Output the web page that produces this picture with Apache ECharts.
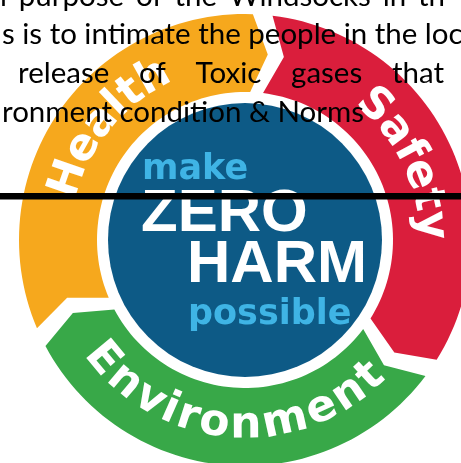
<!DOCTYPE html>
<html>
<head>
<meta charset="utf-8">
<script src="https://cdn.jsdelivr.net/npm/echarts@6/dist/echarts.min.js"></script>
<style>
html,body{margin:0;padding:0;background:#ffffff;}
#chart{width:461px;height:463px;}
</style>
</head>
<body>
<div id="chart"></div>
<script>
// ---- data ----
const categories = ['Health', 'Safety', 'Environment'];
const shares = [1, 1, 1];
const centerWords = ['make', 'ZERO', 'HARM', 'possible'];
const paragraphLines = [
  ['l', 'purpose', 'of', 'the', 'Windsocks', 'in', 'th'],
  ['s', 'is', 'to', 'intimate', 'the', 'people', 'in', 'the', 'loc'],
  ['release', 'of', 'Toxic', 'gases', 'that'],
  ['ronment', 'condition', '&', 'Norms']
];

// ---- layout / style ----
const ringColors = ['#F6A81D', '#DA1E3C', '#38A848'];
const labelOutward = [true, true, false];
const labelShift = [5, 0, 0];          // degrees, clockwise
const CX = 245, CY = 240;
const R_OUT = 226, R_IN = 148, R_MID = 187, R_TXT = 186, R_DISC = 137;
const GAP_DEG = 5, TIP_DEG = 5;
const LABEL_FONT = 'bold 44px "DejaVu Sans"';
const LETTER_SP = 1;
const PARA_FONT = '29.5px Lato';
// line layout: start x, and for justified lines the x where the last word starts
const lineLayout = [
  {x0: 0, lastX: 418},
  {x0: 2, gap: 7.5},
  {x0: 18, lastX: 392},
  {x0: 2, gap: 7.5}
];
const lineY = [-4, 34, 73, 112];

const total = shares.reduce((a, b) => a + b, 0);
const cum = [];
shares.reduce((acc, v, i) => { cum[i] = acc; return acc + v; }, 0);

const mctx = document.createElement('canvas').getContext('2d');

const chart = echarts.init(document.getElementById('chart'), null, {renderer: 'canvas'});

const graphics = [];
graphics.push({type: 'circle', z: 1, shape: {cx: CX, cy: CY, r: R_DISC}, style: {fill: '#0D5A86'}});
const centerStyles = [
  {x: 142, y: 170, font: 'bold 35px "DejaVu Sans"', fill: '#3FB4E5'},
  {x: 141, y: 214, font: 'bold 60px "Liberation Sans"', fill: '#ffffff'},
  {x: 187, y: 265, font: 'bold 60px "Liberation Sans"', fill: '#ffffff'},
  {x: 188, y: 315, font: 'bold 35px "DejaVu Sans"', fill: '#3FB4E5'}
];
centerWords.forEach((w, i) => {
  const s = centerStyles[i];
  graphics.push({type: 'text', z: 5, x: s.x, y: s.y,
    style: {text: w, font: s.font, fill: s.fill, align: 'left', verticalAlign: 'middle'}});
});
graphics.push({type: 'rect', z: 20, shape: {x: 0, y: 193, width: 461, height: 6.5}, style: {fill: '#000000'}});

mctx.font = PARA_FONT;
paragraphLines.forEach((line, li) => {
  const L = lineLayout[li];
  const widths = line.map(w => mctx.measureText(w).width);
  let gap = L.gap;
  if (L.lastX !== undefined) {
    const sumBefore = widths.slice(0, -1).reduce((a, b) => a + b, 0);
    gap = (L.lastX - L.x0 - sumBefore) / (line.length - 1);
  }
  let x = L.x0;
  line.forEach((w, wi) => {
    graphics.push({type: 'text', z: 30, x: x, y: lineY[li],
      style: {text: w, font: PARA_FONT, fill: '#000000', align: 'left', verticalAlign: 'middle'}});
    x += widths[wi] + gap;
  });
});

const option = {
  animation: false,
  backgroundColor: '#ffffff',
  polar: {center: [CX, CY], radius: [0, R_OUT]},
  angleAxis: {type: 'value', min: 0, max: total, startAngle: 205.5, clockwise: true, show: false},
  radiusAxis: {type: 'value', min: 0, max: R_OUT, show: false},
  graphic: {elements: graphics},
  series: [{
    type: 'custom',
    coordinateSystem: 'polar',
    z: 3,
    data: categories.map((c, i) => ({name: c, value: [cum[i], cum[i] + shares[i]]})),
    renderItem: function (params, api) {
      const i = params.dataIndex;
      const a0 = api.value(0), a1 = api.value(1);
      const degPerUnit = 360 / total;
      const g = GAP_DEG / 2 / degPerUnit, d = TIP_DEG / degPerUnit;
      const s = a0 + g, e = a1 - g;
      const pts = [];
      const N = 60;
      for (let k = 0; k <= N; k++) pts.push(api.coord([R_OUT, s + (e - s) * k / N]));
      pts.push(api.coord([R_MID, e + d]));
      for (let k = N; k >= 0; k--) pts.push(api.coord([R_IN, s + (e - s) * k / N]));
      pts.push(api.coord([R_MID, s + d]));
      const children = [{type: 'polygon', shape: {points: pts}, style: {fill: ringColors[i]}}];

      const c = api.coord([0, 0]);
      const word = categories[i];
      mctx.font = LABEL_FONT;
      const chars = word.split('');
      const ws = chars.map(ch => mctx.measureText(ch).width + LETTER_SP);
      const W = ws.reduce((p, q) => p + q, 0) - LETTER_SP;
      const dir = labelOutward[i] ? 1 : -1;
      const mid = (a0 + a1) / 2 + labelShift[i] / degPerUnit;
      let off = 0;
      chars.forEach((ch, k) => {
        const o = off + (ws[k] - LETTER_SP) / 2 - W / 2;
        off += ws[k];
        const aC = mid + dir * (o / R_TXT) * 180 / Math.PI / degPerUnit;
        const p = api.coord([R_TXT, aC]);
        const th = Math.atan2(c[1] - p[1], p[0] - c[0]);
        const rot = labelOutward[i] ? th - Math.PI / 2 : th + Math.PI / 2;
        children.push({type: 'text', x: p[0], y: p[1], rotation: rot,
          style: {text: ch, font: LABEL_FONT, fill: '#ffffff', align: 'center', verticalAlign: 'middle'}});
      });
      return {type: 'group', children: children};
    }
  }]
};
chart.setOption(option);
</script>
</body>
</html>
